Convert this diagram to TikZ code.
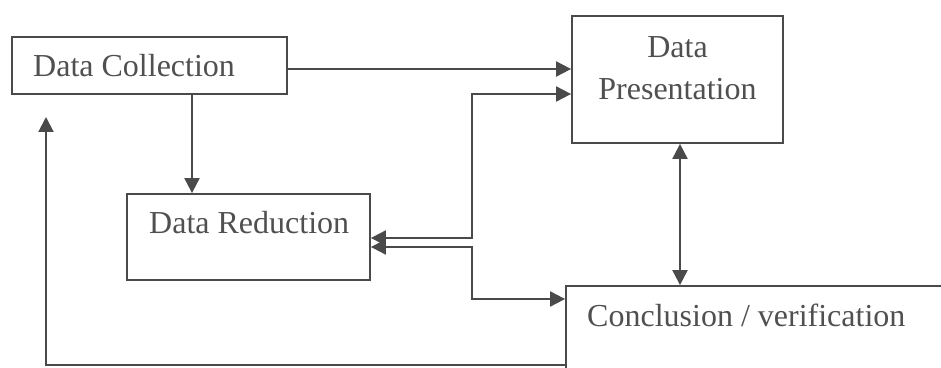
\documentclass[tikz,border=0pt]{standalone}
\usepackage{fontspec}
\setmainfont{Liberation Serif}
\usetikzlibrary{arrows.meta}
\definecolor{linec}{HTML}{4A4A4A}
\definecolor{textc}{HTML}{505050}
\begin{document}
\begin{tikzpicture}[x=1pt,y=1pt,
  box/.style={draw=linec, line width=1.8pt, inner sep=0pt, fill=none},
  txt/.style={text=textc, inner sep=0pt, font=\fontsize{32}{42}\selectfont},
  conn/.style={draw=linec, line width=2pt},
  >={Triangle[length=15pt,width=15pt]}]
\useasboundingbox (0,0) rectangle (941,367);
\clip (0,0) rectangle (941,367);
\fill[white] (0,0) rectangle (941,367);

% boxes
\node[box, minimum width=275pt, minimum height=57pt] (dc) at (149.5,301.5) {};
\node[box, minimum width=211pt, minimum height=127pt] (dp) at (677.5,287.5) {};
\node[box, minimum width=243pt, minimum height=86pt] (dr) at (248.5,130) {};
\node[box, minimum width=394pt, minimum height=94pt] (cv) at (763,34) {};

% texts
\node[txt, anchor=base west] (dct) at (33,290) {Data Collection};
\node[txt, anchor=north, align=center] (dpt) at (677.5,331) {Data\\Presentation};
\node[txt, anchor=base west] (drt) at (149,134) {Data Reduction};
\node[txt, anchor=base west] (cvt) at (587,41) {Conclusion / verification};

% connectors
\coordinate (yA) at (0,298);
\draw[conn,->] (dc.east |- yA) -- (dp.west |- yA);

\coordinate (xB) at (192,0);
\draw[conn,->] (dc.south -| xB) -- (dr.north -| xB);

\coordinate (j1) at (472,273);
\coordinate (j2) at (472,129);
\draw[conn,<->] (dr.east |- j2) -- (j2) -- (j1) -- (dp.west |- j1);

\coordinate (j3) at (472,120);
\coordinate (j4) at (472,68);
\draw[conn,<->] (dr.east |- j3) -- (j3) -- (j4) -- (cv.west |- j4);

\coordinate (xC) at (680,0);
\draw[conn,<->] (dp.south -| xC) -- (cv.north -| xC);

\coordinate (f1) at (46,2);
\coordinate (f2) at (46,250);
\draw[conn,->] (cv.west |- f1) -- (f1) -- (f2);
\end{tikzpicture}
\end{document}
